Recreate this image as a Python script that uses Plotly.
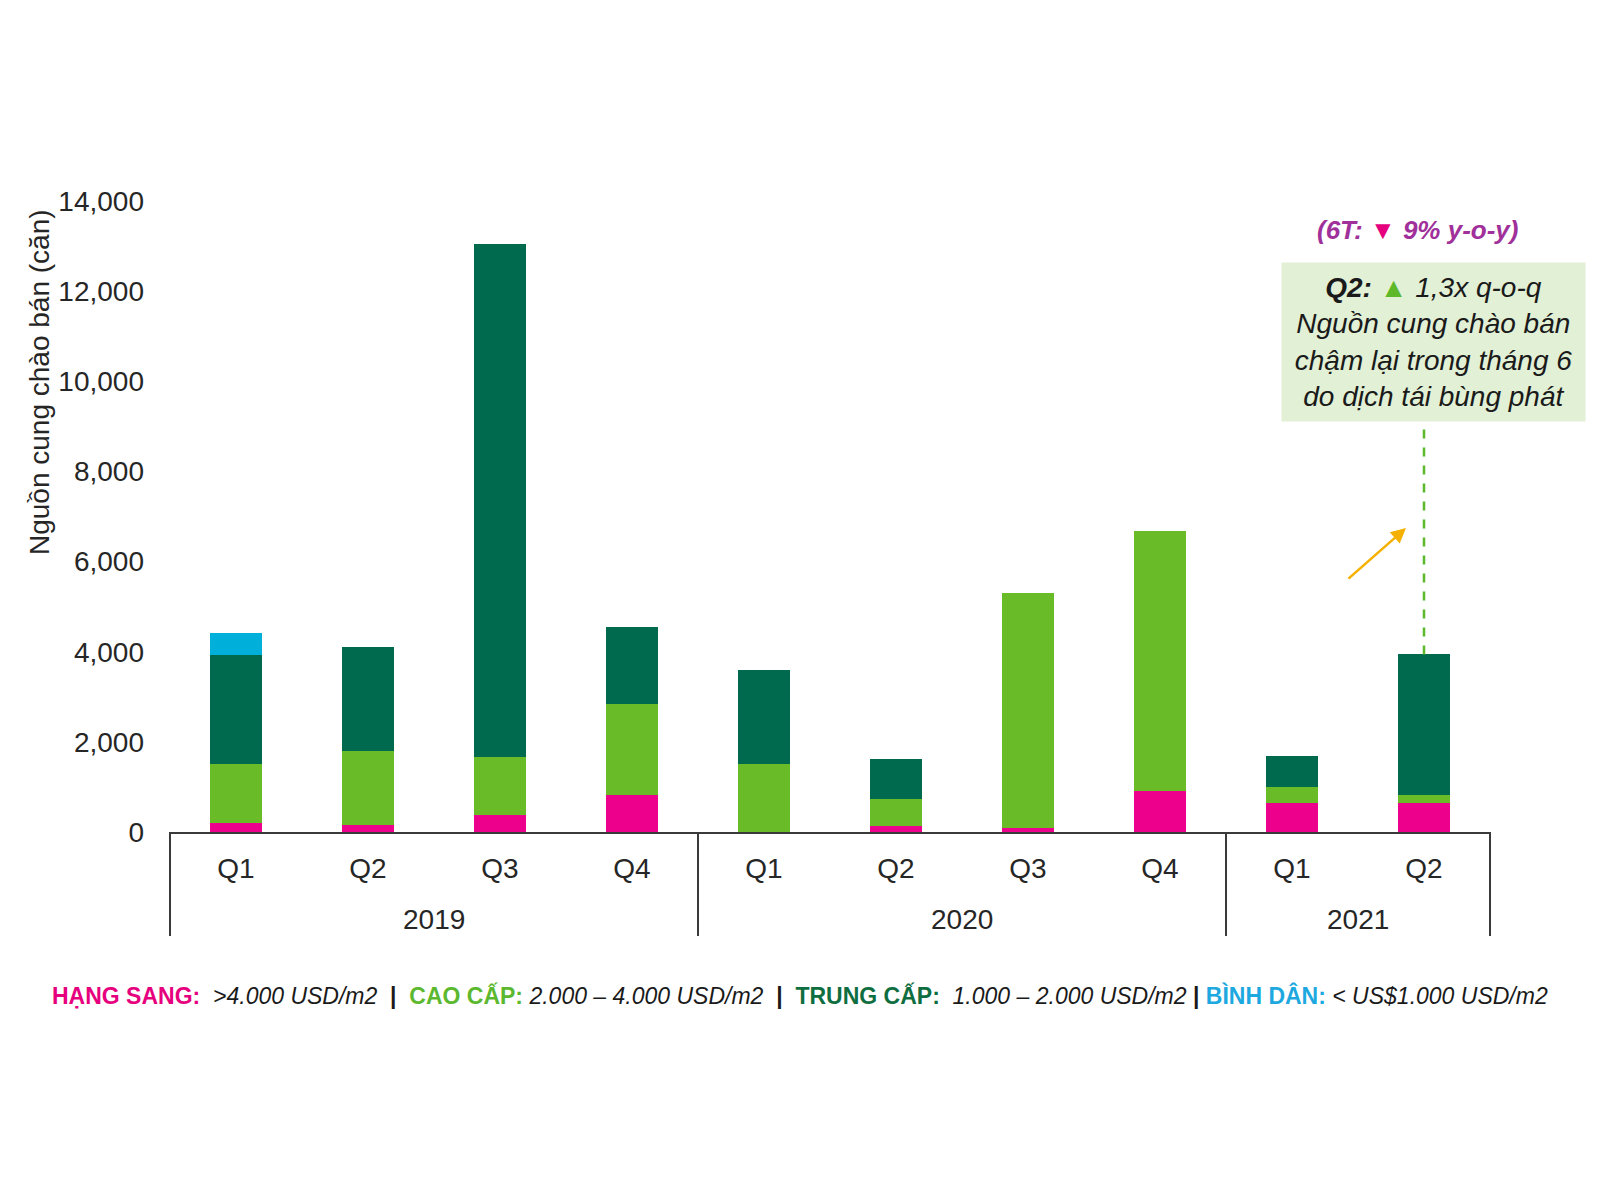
import plotly.graph_objects as go

years = ["2019"] * 4 + ["2020"] * 4 + ["2021"] * 2
quarters = ["Q1", "Q2", "Q3", "Q4", "Q1", "Q2", "Q3", "Q4", "Q1", "Q2"]
year_groups = ["2019", "2020", "2021"]

hang_sang = [200, 150, 370, 810, 0, 140, 80, 910, 650, 650]
cao_cap = [1300, 1650, 1300, 2020, 1500, 590, 5230, 5770, 340, 180]
trung_cap = [2430, 2300, 11380, 1720, 2100, 890, 0, 0, 700, 3110]
binh_dan = [480, 0, 0, 0, 0, 0, 0, 0, 0, 0]

series_names = ["Hạng sang", "Cao cấp", "Trung cấp", "Bình dân"]
series_values = [hang_sang, cao_cap, trung_cap, binh_dan]
series_colors = ["#EC008C", "#69BB28", "#006A4E", "#00B0DB"]

y_ticks = [0, 2000, 4000, 6000, 8000, 10000, 12000, 14000]

FONT = "Liberation Sans, Arial, sans-serif"
AXIS_COL = "#3A3A3A"

categories = [f"{y} {q}" for y, q in zip(years, quarters)]

fig = go.Figure()
for name, vals, col in zip(series_names, series_values, series_colors):
    fig.add_trace(go.Bar(
        x=categories, y=vals, name=name,
        marker=dict(color=col, line=dict(width=0)),
    ))

# plot area in px
L, R, T, B = 170, 110, 201, 368
W, H = 1600, 1200
pw = W - L - R
ph = H - T - B


def px_x(x):
    return (x - L) / pw


def px_y(y):
    return (H - B - y) / ph


n = len(categories)
annotations = [
    dict(text="Nguồn cung chào bán (căn)", textangle=-90, xref="paper", yref="paper",
         x=px_x(39), y=px_y(382), xanchor="center", yanchor="middle", showarrow=False,
         font=dict(family=FONT, size=28, color="#262626")),
    dict(text="<b><i>(6T: <span style='color:#E6007E'>▼</span> 9% y-o-y)</i></b>",
         xref="paper", yref="paper", x=px_x(1418), y=px_y(230), xanchor="center",
         yanchor="middle", showarrow=False,
         font=dict(family=FONT, size=26, color="#A0309A")),
    dict(text="<b><i>Q2:</i></b> <span style='color:#5DB82A'>▲</span> <i>1,3x q-o-q</i><br>"
              "<i>Nguồn cung chào bán</i><br><i>chậm lại trong tháng 6</i><br>"
              "<i>do dịch tái bùng phát</i>",
         xref="paper", yref="paper", x=px_x(1433.5), y=px_y(342), xanchor="center",
         yanchor="middle", showarrow=False, width=303, height=158, borderpad=0,
         bgcolor="#E2F0D6", align="center",
         font=dict(family=FONT, size=28, color="#1A1A1A")),
    dict(text="", xref="paper", yref="paper", x=px_x(1406), y=px_y(528),
         ax=-59, ay=52, axref="pixel", ayref="pixel", showarrow=True,
         arrowhead=2, arrowsize=1.2, arrowwidth=2.5, arrowcolor="#F5B000"),
    dict(text=("<b><span style='color:#E6007E'>HẠNG SANG:</span></b>&nbsp;&nbsp;<i>&gt;4.000 USD/m2</i>"
               "&nbsp;&nbsp;<b>|</b>&nbsp;&nbsp;<b><span style='color:#5CB82E'>CAO CẤP:</span></b> <i>2.000 – 4.000 USD/m2</i>"
               "&nbsp;&nbsp;<b>|</b>&nbsp;&nbsp;<b><span style='color:#0F6E3F'>TRUNG CẤP:</span></b>&nbsp;&nbsp;<i>1.000 – 2.000 USD/m2</i>"
               " <b>|</b> <b><span style='color:#1EA8E0'>BÌNH DÂN:</span></b> <i>&lt; US$1.000 USD/m2</i>"),
         xref="paper", yref="paper", x=px_x(800), y=px_y(995), xanchor="center",
         yanchor="middle", showarrow=False,
         font=dict(family=FONT, size=23, color="#1A1A1A")),
]

# year group labels and dividers of the two-level category axis
shapes = []
start = 0
bounds = [0]
for yg in year_groups:
    cnt = years.count(yg)
    center = (start + cnt / 2) / n
    annotations.append(dict(
        text=yg, xref="paper", yref="paper", x=center, y=px_y(919),
        xanchor="center", yanchor="middle", showarrow=False,
        font=dict(family=FONT, size=28, color="#262626")))
    start += cnt
    bounds.append(start)
for b in bounds:
    shapes.append(dict(type="line", xref="paper", yref="paper", x0=b / n, x1=b / n,
                       y0=0, y1=px_y(936), line=dict(color=AXIS_COL, width=2)))

shapes.append(dict(type="line", xref="paper", yref="y", x0=(n - 0.5) / n, x1=(n - 0.5) / n,
                   y0=trung_cap[-1] + cao_cap[-1] + hang_sang[-1],
                   y1=(H - B - 421) / ph * 14000,
                   line=dict(color="#5DB82A", width=2.5, dash="dash")))

fig.update_layout(
    width=W, height=H,
    margin=dict(l=L, r=R, t=T, b=B, autoexpand=False),
    barmode="stack", bargap=0.606,
    plot_bgcolor="white", paper_bgcolor="white",
    showlegend=False,
    font=dict(family=FONT, size=28, color="#262626"),
    annotations=annotations, shapes=shapes,
    xaxis=dict(
        type="category", showgrid=False, ticks="",
        tickvals=categories, ticktext=quarters, tickangle=0,
        showline=True, linecolor=AXIS_COL, linewidth=2, ticklabelstandoff=10,
        tickfont=dict(family=FONT, size=28, color="#262626"),
    ),
    yaxis=dict(
        range=[0, 14000], tickvals=y_ticks, tickformat=",d", showgrid=False,
        zeroline=False, showline=False, ticks="", ticklabelstandoff=25,
        tickfont=dict(family=FONT, size=28, color="#262626"),
    ),
)

fig.write_html("out.html")
